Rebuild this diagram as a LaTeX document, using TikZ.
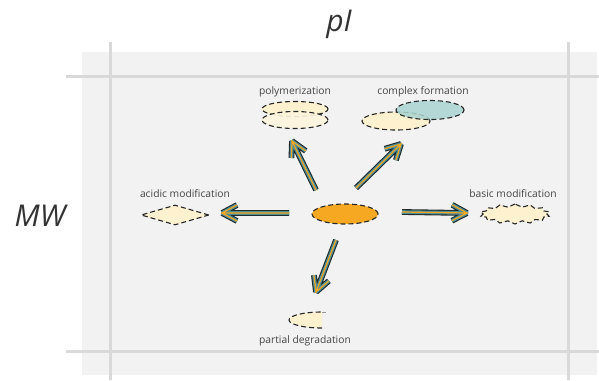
\documentclass[tikz,border=0pt]{standalone}
\usepackage{fontspec}
\setmainfont{Open Sans}
\usetikzlibrary{calc,shapes.geometric,shapes.symbols}
\definecolor{bgc}{HTML}{F2F2F2}
\definecolor{gridc}{HTML}{D9D9D9}
\definecolor{creamc}{HTML}{FEF1CF}
\definecolor{tealc}{HTML}{A8D4D0}
\definecolor{orangec}{HTML}{F6A823}
\definecolor{arrteal}{HTML}{4F8D95}
\definecolor{arrdark}{HTML}{1F2A2C}
\definecolor{txtc}{HTML}{444444}
\tikzset{
  gridline/.style={draw=gridc, line width=3pt},
  blob/.style={draw=black!85, line width=1.1pt, dash pattern=on 5pt off 3pt},
  lbl/.style={text=txtc, font=\fontsize{10.3}{12}\selectfont, inner sep=0pt},
  axlbl/.style={text=black!80, font=\fontsize{30}{34}\selectfont\itshape, inner sep=0pt},
  arrowbase/.style={line width=5.8pt, draw=arrdark, line join=miter, line cap=butt,
    postaction={draw=arrteal, line width=3.6pt},
    postaction={draw=orangec, line width=1.2pt}},
}
\newcommand\fatarr[2]{%
  \draw[arrowbase] ($(#2)!-1pt!(#1)$) -- (#1) (#2) -- ($(#2)!17pt!28:(#1)$) (#2) -- ($(#2)!17pt!-28:(#1)$);}
\begin{document}
\begin{tikzpicture}[x=1pt,y=-1pt]
\useasboundingbox (0,0) rectangle (599,380);
% background
\fill[bgc] (82,52) rectangle (597,375);
\draw[gridline] (110,42) -- (110,380);
\draw[gridline] (568,42) -- (568,380);
\draw[gridline] (66,76) -- (599,76);
\draw[gridline] (66,351) -- (599,351);
% axis labels
\node[axlbl] (pI) at (339,24) {pI};
\node[axlbl] (MW) at (40,216) {MW};
% center
\node[blob, ellipse, fill=orangec, minimum width=66pt, minimum height=20pt, inner sep=0pt] (c) at (345,214) {};
% polymerization
\node[lbl] (polyl) at (295,92) {polymerization};
\node[blob, ellipse, fill=creamc, minimum width=66pt, minimum height=15pt, inner sep=0pt] (p1) at (295,109) {};
\node[blob, ellipse, fill=creamc!70!white, fill opacity=0.9, draw opacity=1, minimum width=66pt, minimum height=17pt, inner sep=0pt] (p2) at (295,120) {};
% complex formation
\node[lbl] (compl) at (423,92) {complex formation};
\node[blob, ellipse, fill=creamc, minimum width=68pt, minimum height=18pt, inner sep=0pt] (cx1) at (396,121) {};
\node[blob, ellipse, fill=tealc, fill opacity=0.85, draw opacity=1, minimum width=68pt, minimum height=19pt, inner sep=0pt] (cx2) at (430,110) {};
% acidic
\node[lbl] (acl) at (185,194) {acidic modification};
\node[blob, diamond, aspect=3.4, fill=creamc, minimum width=68pt, minimum height=20pt, inner sep=0pt] (ac) at (175,215) {};
% basic
\node[lbl] (bal) at (513,194) {basic modification};
\node[blob, starburst, starburst points=14, starburst point height=3pt, random starburst=0, fill=creamc, minimum width=70pt, minimum height=20pt, inner sep=0pt] (ba) at (515,214) {};
% partial degradation
\coordinate (pdc) at (322,320);
\fill[creamc] ($(pdc)+(0,8)$) arc[start angle=90, end angle=270, x radius=33, y radius=8] -- cycle;
\draw[blob] ($(pdc)+(0,8)$) arc[start angle=90, end angle=270, x radius=33, y radius=8];
\draw[gridc!70!black, line width=0.8pt] ($(pdc)+(0,-8)$) -- ($(pdc)+(4,-8)$);
\node[lbl] (pdl) at (305,341) {partial degradation};
% arrows
\coordinate (a1s) at (316,190); \coordinate (a1e) at (292,141);
\coordinate (a2s) at (356,188); \coordinate (a2e) at (401,144);
\coordinate (a3s) at (289,213); \coordinate (a3e) at (222,213);
\coordinate (a4s) at (402,212); \coordinate (a4e) at (467,213);
\coordinate (a5s) at (336,240); \coordinate (a5e) at (316,292);
\fatarr{a1s}{a1e}
\fatarr{a2s}{a2e}
\fatarr{a3s}{a3e}
\fatarr{a4s}{a4e}
\fatarr{a5s}{a5e}
\end{tikzpicture}
\end{document}
